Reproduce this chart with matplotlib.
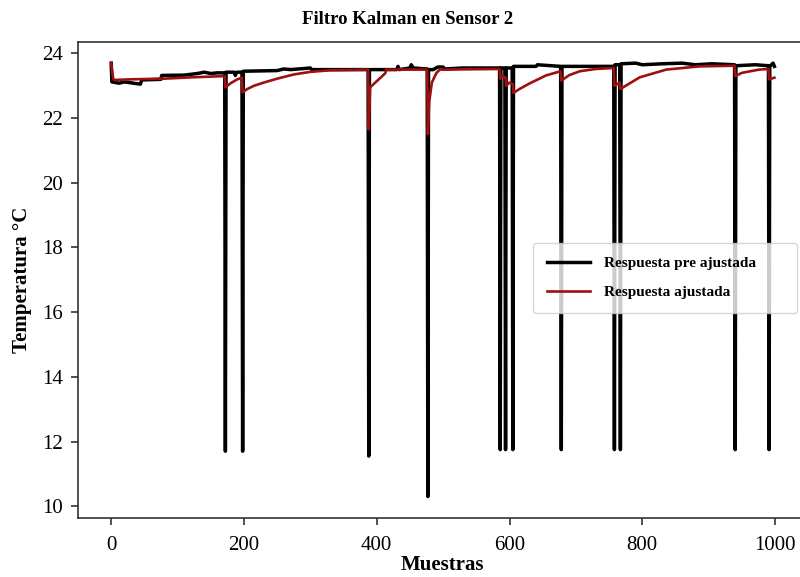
import matplotlib
matplotlib.use("Agg")
import matplotlib.pyplot as plt

plt.rcParams['font.family'] = ['Liberation Serif', 'DejaVu Serif']

# senal cruda (muestra, temperatura)
raw_x = [0, 1, 12, 20, 44, 46, 75, 76, 110, 130, 140, 150, 160, 171, 172, 173,
         185, 187, 189, 197, 198, 199, 250, 260, 270, 300, 302, 387, 388, 389,
         430, 432, 434, 450, 452, 455, 476, 477, 478, 485, 492, 500, 502, 530,
         585, 586, 587, 593, 594, 595, 604, 605, 606, 640, 642, 677, 678, 679,
         720, 757, 758, 759, 766, 767, 768, 790, 800, 830, 860, 880, 905, 939,
         940, 941, 970, 990, 991, 992, 997, 999]
raw_y = [23.7, 23.12, 23.08, 23.12, 23.05, 23.18, 23.2, 23.32, 23.33, 23.38, 23.42, 23.38, 23.4, 23.4, 11.7, 23.42,
         23.42, 23.32, 23.42, 23.42, 11.7, 23.45, 23.47, 23.52, 23.5, 23.55, 23.5, 23.5, 11.55, 23.5,
         23.5, 23.6, 23.5, 23.55, 23.65, 23.55, 23.52, 10.3, 23.5, 23.5, 23.58, 23.58, 23.52, 23.55,
         23.55, 11.75, 23.55, 23.55, 11.75, 23.55, 23.55, 11.75, 23.6, 23.6, 23.65, 23.6, 11.75, 23.6,
         23.6, 23.6, 11.75, 23.65, 23.65, 11.75, 23.68, 23.7, 23.65, 23.68, 23.7, 23.65, 23.68, 23.65,
         11.75, 23.62, 23.65, 23.62, 11.75, 23.6, 23.7, 23.6]

# respuesta del filtro
kal_x = [0, 3, 5, 30, 80, 120, 171, 172, 180, 190, 197, 198, 205, 215, 230, 250,
         275, 300, 330, 387, 388, 390, 413, 414, 476, 477, 479, 483, 490, 495,
         585, 586, 588, 594, 595, 600, 605, 606, 615, 630, 655, 677, 678, 690,
         706, 730, 757, 758, 766, 767, 775, 796, 836, 886, 939, 940, 950, 976,
         990, 991, 999]
kal_y = [23.7, 23.22, 23.18, 23.2, 23.22, 23.26, 23.3, 22.95, 23.08, 23.2, 23.25, 22.8, 22.9, 23.0, 23.1, 23.22,
         23.35, 23.43, 23.48, 23.5, 21.65, 22.95, 23.39, 23.5, 23.5, 21.5, 22.5, 23.1, 23.4, 23.5,
         23.52, 23.22, 23.3, 23.25, 23.0, 23.1, 23.05, 22.78, 22.9, 23.07, 23.32, 23.45, 23.16, 23.33,
         23.45, 23.52, 23.55, 23.0, 23.1, 22.9, 23.0, 23.26, 23.5, 23.6, 23.62, 23.3, 23.4, 23.5,
         23.52, 23.2, 23.25]

fig = plt.figure(figsize=(8, 5.77), dpi=100)
ax = fig.add_axes([0.0975, 0.102, 0.912, 0.825])

ax.plot(raw_x, raw_y, color='black', linewidth=2.5, label='Respuesta pre ajustada')
ax.plot(kal_x, kal_y, color='#9e1010', linewidth=1.9, label='Respuesta ajustada')

ax.set_xlim(-50, 1049)
ax.set_ylim(9.63, 24.35)
ax.set_yticks([10, 12, 14, 16, 18, 20, 22, 24])
ax.set_xticks([0, 200, 400, 600, 800, 1000])
ax.tick_params(labelsize=15, colors='#333333', labelcolor='black', length=5, width=1.2)
ax.tick_params(axis='x', pad=8)
ax.tick_params(axis='y', pad=6)
for s in ax.spines.values():
    s.set_color('#333333')
    s.set_linewidth(1.2)

ax.set_title('Filtro Kalman en Sensor 2', fontsize=13.5, fontweight='bold', pad=13, x=0.452)
ax.set_xlabel('Muestras', fontsize=15, fontweight='bold', labelpad=0)
ax.set_ylabel('Temperatura °C', fontsize=15, fontweight='bold', labelpad=7)

leg = ax.legend(loc='lower left', bbox_to_anchor=(0.624, 0.431, 0.362, 0.147), mode='expand',
                prop={'weight': 'bold', 'size': 11}, handlelength=2.8, handletextpad=0.9,
                borderpad=0.9, borderaxespad=0, labelspacing=1.0, fancybox=True,
                edgecolor='#cccccc')

fig.savefig('out.png', dpi=100)
